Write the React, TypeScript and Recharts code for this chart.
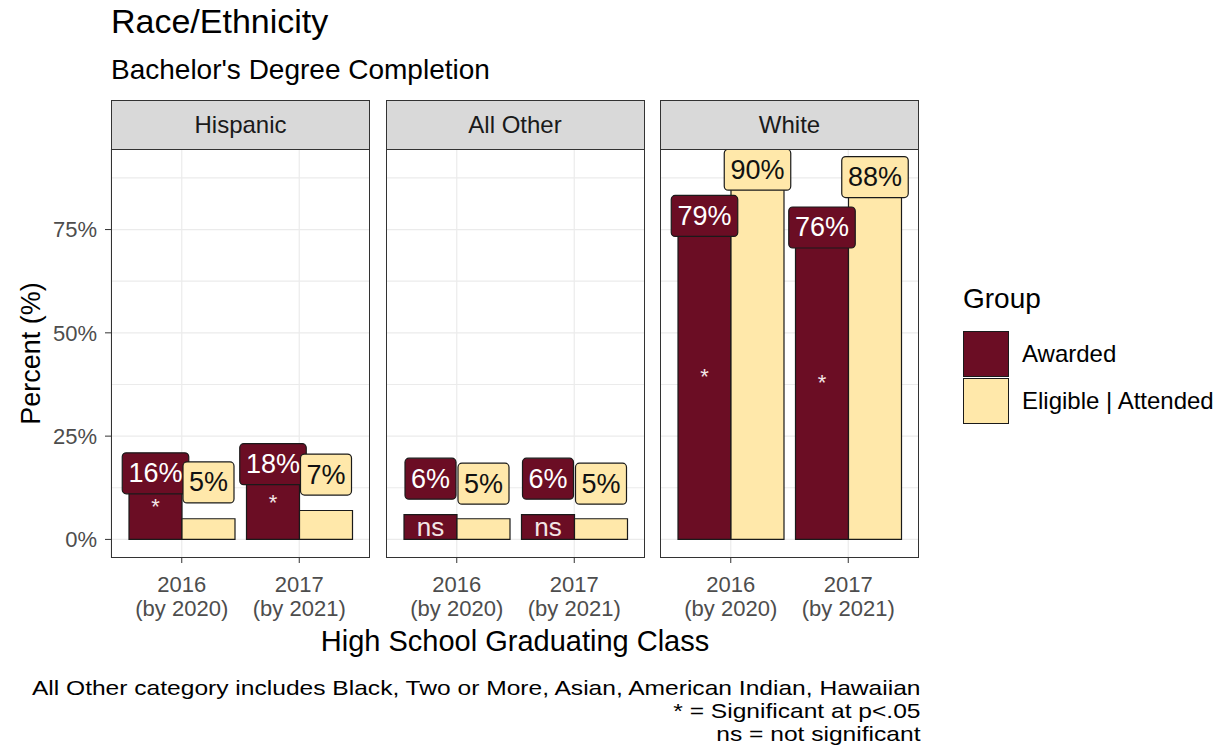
import React from "react";
import {
  BarChart,
  Bar,
  XAxis,
  YAxis,
  CartesianGrid,
  LabelList,
} from "recharts";

const GROUPS = ["Hispanic", "All Other", "White"];
const CLASS_YEAR = ["2016", "2017"];
const CLASS_BY = ["(by 2020)", "(by 2021)"];
const AWARDED = [
  [16, 18],
  [6, 6],
  [79, 76],
];
const ELIGIBLE = [
  [5, 7],
  [5, 5],
  [90, 88],
];
const SIG = [
  ["*", "*"],
  ["ns", "ns"],
  ["*", "*"],
];
// repelled label centres (in %)
const AWARDED_LABEL_Y = [
  [16, 18.2],
  [14.7, 14.7],
  [78.3, 75.5],
];
const ELIGIBLE_LABEL_Y = [
  [13.8, 15.7],
  [13.5, 13.5],
  [89.5, 87.7],
];
const Y_TICKS = [0, 25, 50, 75];
const Y_GRID = [0, 12.5, 25, 37.5, 50, 62.5, 75, 87.5];

const SERIES = [
  { key: "awarded", name: "Awarded", color: "#6B0D24", text: "#ffffff" },
  { key: "eligible", name: "Eligible | Attended", color: "#FFE8AA", text: "#111111" },
];

const FONT = '"Liberation Sans", Arial, sans-serif';
const PANEL_LEFT = 111;
const PANEL_STEP = 274.5;
const PANEL_W = 259;
const PANEL_TOP = 149;
const PANEL_H = 409;
const XAXIS_H = 72;
const YAXIS_W = 111;

const XTick = (props: any) => {
  const { x, y, index } = props;
  return (
    <g>
      <text x={x} y={y + 27} textAnchor="middle" fill="#4d4d4d" fontSize={22} fontFamily={FONT}>
        {CLASS_YEAR[index]}
      </text>
      <text x={x} y={y + 51} textAnchor="middle" fill="#4d4d4d" fontSize={22} fontFamily={FONT}>
        {CLASS_BY[index]}
      </text>
    </g>
  );
};

const makeLabel = (labelY: number[], sig: string[] | null, fill: string, color: string) =>
  (props: any) => {
    const { x, y, width, height, value, index } = props;
    const base = y + height;
    const perUnit = height / value;
    const cy = base - labelY[index] * perUnit;
    const txt = `${value}%`;
    const tw = txt.length * 15.5 - 2;
    const bw = tw + 22;
    const bh = 41;
    const cx = x + width / 2;
    return (
      <g>
        <rect
          x={cx - bw / 2}
          y={cy - bh / 2}
          width={bw}
          height={bh}
          rx={4}
          ry={4}
          fill={fill}
          stroke="#1a1a1a"
          strokeWidth={1.2}
        />
        <text
          x={cx}
          y={cy}
          textAnchor="middle"
          dominantBaseline="central"
          fill={color}
          fontSize={27}
          fontFamily={FONT}
        >
          {txt}
        </text>
        {sig && (
          <text
            x={cx}
            y={base - (value / 2) * perUnit}
            textAnchor="middle"
            dominantBaseline="central"
            fill="#f3e6e6"
            fontSize={sig[index] === "*" ? 22 : 26}
            fontFamily={FONT}
          >
            {sig[index]}
          </text>
        )}
      </g>
    );
  };

const Panel = ({ g }: { g: number }) => {
  const data = CLASS_YEAR.map((c, i) => ({
    cls: c,
    awarded: AWARDED[g][i],
    eligible: ELIGIBLE[g][i],
  }));
  const first = g === 0;
  const left = PANEL_LEFT + g * PANEL_STEP - (first ? YAXIS_W : 0);
  return (
    <div style={{ position: "absolute", left, top: PANEL_TOP }}>
      <BarChart
        width={PANEL_W + (first ? YAXIS_W : 0)}
        height={PANEL_H + XAXIS_H}
        data={data}
        margin={{ top: 0, right: 0, bottom: 0, left: 0 }}
        barGap={0}
        barSize={53}
      >
        <CartesianGrid
          stroke="#ebebeb"
          strokeWidth={1.2}
          horizontalValues={Y_GRID}
          fill="#ffffff"
        />
        <XAxis
          dataKey="cls"
          height={XAXIS_H}
          padding={{ left: 12, right: 12 }}
          axisLine={false}
          tickLine={{ stroke: "#333333" }}
          tickSize={5}
          tick={<XTick />}
          interval={0}
        />
        <YAxis
          hide={!first}
          width={YAXIS_W}
          domain={[-4.5, 94.5]}
          allowDataOverflow
          ticks={Y_TICKS}
          tickFormatter={(v: number) => `${v}%`}
          axisLine={false}
          tickLine={{ stroke: "#333333" }}
          tickSize={6}
          tickMargin={8}
          tick={{ fill: "#4d4d4d", fontSize: 22, fontFamily: FONT }}
          label={{
            value: "Percent (%)",
            angle: -90,
            position: "insideLeft",
            offset: 30,
            style: { textAnchor: "middle", fill: "#000", fontSize: 27, fontFamily: FONT },
          }}
        />
        <Bar
          dataKey="awarded"
          fill={SERIES[0].color}
          stroke="#1a1a1a"
          strokeWidth={1.2}
          isAnimationActive={false}
        >
          <LabelList
            dataKey="awarded"
            content={makeLabel(AWARDED_LABEL_Y[g], SIG[g], SERIES[0].color, SERIES[0].text)}
          />
        </Bar>
        <Bar
          dataKey="eligible"
          fill={SERIES[1].color}
          stroke="#1a1a1a"
          strokeWidth={1.2}
          isAnimationActive={false}
        >
          <LabelList
            dataKey="eligible"
            content={makeLabel(ELIGIBLE_LABEL_Y[g], null, SERIES[1].color, SERIES[1].text)}
          />
        </Bar>
      </BarChart>
      {/* panel border */}
      <div
        style={{
          position: "absolute",
          left: first ? YAXIS_W : 0,
          top: 0,
          width: PANEL_W,
          height: PANEL_H,
          border: "1.3px solid #333333",
          boxSizing: "border-box",
          pointerEvents: "none",
        }}
      />
    </div>
  );
};

export default function App() {
  return (
    <div
      style={{
        position: "absolute",
        left: 0,
        top: 0,
        width: 1228,
        height: 751,
        background: "#ffffff",
        fontFamily: FONT,
        overflow: "hidden",
      }}
    >
      <div style={{ position: "absolute", left: 111, top: 2, fontSize: 34, color: "#000" }}>
        Race/Ethnicity
      </div>
      <div style={{ position: "absolute", left: 111, top: 54, fontSize: 28, color: "#000" }}>
        Bachelor's Degree Completion
      </div>

      {GROUPS.map((name, g) => (
        <div
          key={name}
          style={{
            position: "absolute",
            left: PANEL_LEFT + g * PANEL_STEP,
            top: 100,
            width: PANEL_W,
            height: 50,
            background: "#d9d9d9",
            border: "1.3px solid #333333",
            boxSizing: "border-box",
            display: "flex",
            alignItems: "center",
            justifyContent: "center",
            fontSize: 24,
            color: "#1a1a1a",
          }}
        >
          {name}
        </div>
      ))}

      {GROUPS.map((name, g) => (
        <Panel key={name} g={g} />
      ))}

      <div
        style={{
          position: "absolute",
          left: PANEL_LEFT,
          width: PANEL_STEP * 2 + PANEL_W,
          top: 625,
          textAlign: "center",
          fontSize: 29,
          color: "#000",
        }}
      >
        High School Graduating Class
      </div>

      <div style={{ position: "absolute", left: 963, top: 283, fontSize: 28, color: "#000" }}>
        Group
      </div>
      {SERIES.map((s, i) => (
        <div key={s.key}>
          <div
            style={{
              position: "absolute",
              left: 963,
              top: 331 + i * 47,
              width: 46,
              height: 46,
              background: s.color,
              border: "1.5px solid #1a1a1a",
              boxSizing: "border-box",
            }}
          />
          <div
            style={{
              position: "absolute",
              left: 1022,
              top: 340 + i * 47,
              fontSize: 24,
              color: "#000",
              whiteSpace: "nowrap",
            }}
          >
            {s.name}
          </div>
        </div>
      ))}

      <div
        style={{
          position: "absolute",
          right: 1228 - 920,
          top: 676,
          textAlign: "right",
          fontSize: 21,
          lineHeight: "23px",
          color: "#000",
          whiteSpace: "nowrap",
          transform: "scaleX(1.17)",
          transformOrigin: "right top",
        }}
      >
        <div>All Other category includes Black, Two or More, Asian, American Indian, Hawaiian</div>
        <div>* = Significant at p&lt;.05</div>
        <div>ns = not significant</div>
      </div>
    </div>
  );
}
